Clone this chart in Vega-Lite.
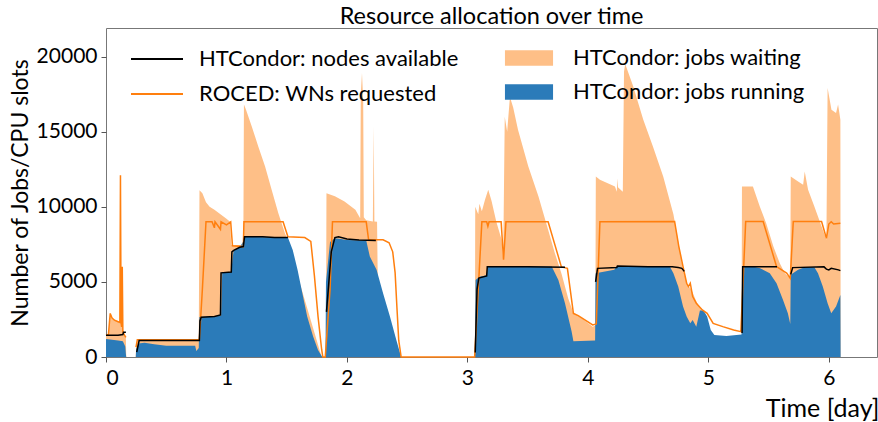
{
  "$schema": "https://vega.github.io/schema/vega-lite/v6.json",
  "autosize": {"type": "none"},
  "padding": {"left": 106, "top": 28, "right": 1, "bottom": 65},
  "width": 771,
  "height": 329,
  "background": "white",
  "title": {"text": "Resource allocation over time", "font": "Lato", "fontSize": 23.5, "fontWeight": "normal", "color": "#000", "anchor": "middle", "offset": 0},
  "config": {
    "view": {"stroke": "#777", "strokeWidth": 1},
    "axis": {"labelFont": "Lato", "labelFontSize": 21, "labelColor": "#000", "titleFont": "Lato", "titleFontSize": 23, "titleFontWeight": "normal", "titleColor": "#000", "domain": false, "grid": false, "tickColor": "#555", "tickSize": 5, "labelPadding": 4},
    "legend": {"labelFont": "Lato", "labelFontSize": 22, "labelColor": "#000", "labelLimit": 0, "padding": 0, "rowPadding": 10, "symbolSize": 676, "labelBaseline": "middle"}
  },
  "datasets": {
    "running": [
      {"t":0,"v":1200},{"t":0.05,"v":1150},{"t":0.10,"v":1100},{"t":0.14,"v":1050},{"t":0.16,"v":700},{"t":0.165,"v":200},{"t":0.168,"v":0},{"t":0.247,"v":0},{"t":0.25,"v":500},{"t":0.27,"v":900},{"t":0.32,"v":950},{"t":0.40,"v":850},{"t":0.50,"v":750},{"t":0.74,"v":750},{"t":0.75,"v":400},{"t":0.77,"v":600},{"t":0.775,"v":2660},{"t":0.90,"v":2700},{"t":0.955,"v":2750},{"t":0.965,"v":5660},{"t":1.04,"v":5660},{"t":1.05,"v":6500},{"t":1.06,"v":7100},{"t":1.11,"v":7300},{"t":1.14,"v":7700},{"t":1.15,"v":8000},{"t":1.51,"v":7950},{"t":1.55,"v":7130},{"t":1.59,"v":5800},{"t":1.63,"v":4240},{"t":1.67,"v":2690},{"t":1.72,"v":1350},{"t":1.76,"v":470},{"t":1.795,"v":0},{"t":1.822,"v":0},{"t":1.826,"v":5000},{"t":1.86,"v":7660},{"t":1.90,"v":7900},{"t":1.95,"v":7850},{"t":2.0,"v":7780},{"t":2.16,"v":7750},{"t":2.19,"v":6690},{"t":2.246,"v":5800},{"t":2.30,"v":4240},{"t":2.357,"v":2690},{"t":2.41,"v":1130},{"t":2.45,"v":0},{"t":3.062,"v":0},{"t":3.068,"v":5130},{"t":3.10,"v":5350},{"t":3.16,"v":5450},{"t":3.17,"v":6020},{"t":3.70,"v":6020},{"t":3.755,"v":5130},{"t":3.81,"v":3580},{"t":3.865,"v":1700},{"t":3.88,"v":1050},{"t":4.06,"v":1100},{"t":4.064,"v":5580},{"t":4.22,"v":5800},{"t":4.235,"v":6020},{"t":4.68,"v":6020},{"t":4.71,"v":5580},{"t":4.75,"v":4690},{"t":4.79,"v":3360},{"t":4.82,"v":2690},{"t":4.85,"v":2240},{"t":4.87,"v":2460},{"t":4.90,"v":2020},{"t":4.93,"v":3100},{"t":4.96,"v":3100},{"t":4.99,"v":2690},{"t":5.02,"v":1800},{"t":5.05,"v":1470},{"t":5.15,"v":1400},{"t":5.276,"v":1500},{"t":5.28,"v":6020},{"t":5.37,"v":6020},{"t":5.43,"v":5900},{"t":5.51,"v":5580},{"t":5.566,"v":4910},{"t":5.62,"v":3800},{"t":5.66,"v":2910},{"t":5.68,"v":2200},{"t":5.684,"v":5470},{"t":5.745,"v":5800},{"t":5.80,"v":5980},{"t":5.88,"v":5980},{"t":5.91,"v":5580},{"t":5.95,"v":4690},{"t":5.99,"v":3580},{"t":6.02,"v":2910},{"t":6.06,"v":3360},{"t":6.096,"v":4130},{"t":6.098,"v":0}
    ],
    "total": [
      {"t":0,"v":1450},{"t":0.02,"v":1500},{"t":0.035,"v":2900},{"t":0.05,"v":2650},{"t":0.07,"v":2500},{"t":0.10,"v":2400},{"t":0.115,"v":2350},{"t":0.12,"v":12100},{"t":0.125,"v":2350},{"t":0.13,"v":2100},{"t":0.135,"v":6000},{"t":0.14,"v":1800},{"t":0.15,"v":1600},{"t":0.165,"v":1300},{"t":0.168,"v":0},{"t":0.247,"v":0},{"t":0.25,"v":700},{"t":0.26,"v":1150},{"t":0.77,"v":1150},{"t":0.776,"v":11100},{"t":0.80,"v":10900},{"t":0.83,"v":10300},{"t":0.86,"v":10000},{"t":0.90,"v":9800},{"t":0.95,"v":9500},{"t":1.00,"v":9200},{"t":1.03,"v":9000},{"t":1.04,"v":7450},{"t":1.14,"v":7450},{"t":1.145,"v":16800},{"t":1.16,"v":16500},{"t":1.21,"v":15350},{"t":1.264,"v":14020},{"t":1.32,"v":12690},{"t":1.375,"v":11130},{"t":1.43,"v":9580},{"t":1.485,"v":8240},{"t":1.527,"v":7500},{"t":1.55,"v":6500},{"t":1.79,"v":0},{"t":1.826,"v":0},{"t":1.83,"v":10900},{"t":1.90,"v":10700},{"t":1.98,"v":10350},{"t":2.07,"v":9800},{"t":2.11,"v":9240},{"t":2.115,"v":17500},{"t":2.125,"v":18900},{"t":2.135,"v":17000},{"t":2.14,"v":9300},{"t":2.16,"v":9100},{"t":2.215,"v":9020},{"t":2.222,"v":15350},{"t":2.228,"v":9020},{"t":2.25,"v":9000},{"t":2.256,"v":5000},{"t":2.30,"v":4000},{"t":2.357,"v":2500},{"t":2.41,"v":1000},{"t":2.44,"v":0},{"t":3.062,"v":0},{"t":3.065,"v":10000},{"t":3.09,"v":9500},{"t":3.10,"v":10200},{"t":3.12,"v":9700},{"t":3.146,"v":10470},{"t":3.173,"v":11130},{"t":3.20,"v":10400},{"t":3.24,"v":9000},{"t":3.284,"v":7800},{"t":3.297,"v":6470},{"t":3.31,"v":16000},{"t":3.33,"v":15000},{"t":3.353,"v":17300},{"t":3.38,"v":16600},{"t":3.42,"v":15130},{"t":3.505,"v":12690},{"t":3.59,"v":10690},{"t":3.67,"v":8470},{"t":3.726,"v":6910},{"t":3.78,"v":5580},{"t":3.837,"v":3900},{"t":3.877,"v":3000},{"t":3.93,"v":2690},{"t":4.04,"v":2020},{"t":4.062,"v":2100},{"t":4.066,"v":12020},{"t":4.10,"v":11800},{"t":4.225,"v":11350},{"t":4.24,"v":11000},{"t":4.245,"v":11900},{"t":4.25,"v":11300},{"t":4.29,"v":11000},{"t":4.30,"v":19000},{"t":4.31,"v":19500},{"t":4.376,"v":18020},{"t":4.46,"v":15800},{"t":4.54,"v":14020},{"t":4.626,"v":12000},{"t":4.71,"v":9500},{"t":4.765,"v":7000},{"t":4.79,"v":5800},{"t":4.82,"v":5000},{"t":4.835,"v":4700},{"t":4.85,"v":4600},{"t":4.87,"v":4300},{"t":4.90,"v":3700},{"t":4.94,"v":3150},{"t":4.96,"v":3000},{"t":4.99,"v":1500},{"t":5.0,"v":1200},{"t":5.276,"v":1200},{"t":5.279,"v":11350},{"t":5.37,"v":11350},{"t":5.427,"v":10020},{"t":5.48,"v":8910},{"t":5.54,"v":7350},{"t":5.593,"v":6240},{"t":5.635,"v":5580},{"t":5.68,"v":5240},{"t":5.684,"v":12020},{"t":5.745,"v":11690},{"t":5.787,"v":11470},{"t":5.80,"v":12350},{"t":5.828,"v":11130},{"t":5.88,"v":10020},{"t":5.94,"v":8690},{"t":5.98,"v":7800},{"t":5.99,"v":17900},{"t":6.022,"v":16460},{"t":6.06,"v":16240},{"t":6.077,"v":16800},{"t":6.096,"v":15800},{"t":6.098,"v":0}
    ],
    "roced": [
      {"g":1,"t":0,"v":1450},{"g":1,"t":0.02,"v":1500},{"g":1,"t":0.035,"v":2900},{"g":1,"t":0.05,"v":2600},{"g":1,"t":0.07,"v":2450},{"g":1,"t":0.10,"v":2350},{"g":1,"t":0.115,"v":2300},{"g":1,"t":0.12,"v":12100},{"g":1,"t":0.125,"v":2300},{"g":1,"t":0.13,"v":2000},{"g":1,"t":0.135,"v":6000},{"g":1,"t":0.14,"v":1700},{"g":1,"t":0.15,"v":1500},{"g":1,"t":0.165,"v":1300},
      {"g":2,"t":0.249,"v":650},{"g":2,"t":0.26,"v":1150},{"g":2,"t":0.775,"v":1150},{"g":2,"t":0.80,"v":4500},{"g":2,"t":0.83,"v":9000},{"g":2,"t":0.88,"v":9000},{"g":2,"t":0.90,"v":8600},{"g":2,"t":0.905,"v":9000},{"g":2,"t":0.95,"v":8500},{"g":2,"t":0.955,"v":9000},{"g":2,"t":1.0,"v":8800},{"g":2,"t":1.035,"v":9000},{"g":2,"t":1.05,"v":7400},{"g":2,"t":1.14,"v":7350},{"g":2,"t":1.145,"v":9000},{"g":2,"t":1.47,"v":9000},{"g":2,"t":1.51,"v":8000},{"g":2,"t":1.65,"v":7950},{"g":2,"t":1.70,"v":7700},{"g":2,"t":1.73,"v":5400},{"g":2,"t":1.76,"v":2700},{"g":2,"t":1.79,"v":500},{"g":2,"t":1.80,"v":0},{"g":2,"t":1.82,"v":0},{"g":2,"t":1.86,"v":4500},{"g":2,"t":1.88,"v":9000},{"g":2,"t":2.16,"v":9000},{"g":2,"t":2.18,"v":7800},{"g":2,"t":2.30,"v":7800},{"g":2,"t":2.35,"v":7600},{"g":2,"t":2.38,"v":7000},{"g":2,"t":2.40,"v":5600},{"g":2,"t":2.415,"v":3300},{"g":2,"t":2.43,"v":1100},{"g":2,"t":2.45,"v":0},{"g":2,"t":3.06,"v":0},{"g":2,"t":3.10,"v":6000},{"g":2,"t":3.12,"v":9000},{"g":2,"t":3.16,"v":9000},{"g":2,"t":3.17,"v":8700},{"g":2,"t":3.18,"v":9000},{"g":2,"t":3.28,"v":9000},{"g":2,"t":3.30,"v":6470},{"g":2,"t":3.32,"v":9000},{"g":2,"t":3.67,"v":9000},{"g":2,"t":3.78,"v":6000},{"g":2,"t":3.83,"v":5900},{"g":2,"t":3.88,"v":2900},{"g":2,"t":3.92,"v":2750},{"g":2,"t":4.04,"v":2130},{"g":2,"t":4.07,"v":2200},{"g":2,"t":4.10,"v":9000},{"g":2,"t":4.72,"v":9020},{"g":2,"t":4.755,"v":7350},{"g":2,"t":4.79,"v":6020},{"g":2,"t":4.82,"v":4910},{"g":2,"t":4.835,"v":4690},{"g":2,"t":4.85,"v":4910},{"g":2,"t":4.87,"v":4020},{"g":2,"t":4.90,"v":3580},{"g":2,"t":4.95,"v":3130},{"g":2,"t":4.99,"v":2910},{"g":2,"t":5.04,"v":2240},{"g":2,"t":5.12,"v":2020},{"g":2,"t":5.21,"v":1800},{"g":2,"t":5.27,"v":1690},{"g":2,"t":5.31,"v":9020},{"g":2,"t":5.455,"v":9020},{"g":2,"t":5.566,"v":6020},{"g":2,"t":5.65,"v":5580},{"g":2,"t":5.68,"v":5240},{"g":2,"t":5.705,"v":9020},{"g":2,"t":5.94,"v":9020},{"g":2,"t":5.98,"v":7900},{"g":2,"t":6.0,"v":8850},{"g":2,"t":6.02,"v":9000},{"g":2,"t":6.04,"v":8850},{"g":2,"t":6.096,"v":8900}
    ],
    "nodes": [
      {"g":1,"t":0,"v":1450},{"g":1,"t":0.10,"v":1450},{"g":1,"t":0.14,"v":1500},{"g":1,"t":0.145,"v":1650},{"g":1,"t":0.165,"v":1650},
      {"g":2,"t":0.255,"v":330},{"g":2,"t":0.275,"v":1100},{"g":2,"t":0.775,"v":1100},{"g":2,"t":0.78,"v":2400},{"g":2,"t":0.79,"v":2650},{"g":2,"t":0.90,"v":2700},{"g":2,"t":0.95,"v":2800},{"g":2,"t":0.955,"v":5600},{"g":2,"t":1.04,"v":5650},{"g":2,"t":1.045,"v":7000},{"g":2,"t":1.06,"v":7100},{"g":2,"t":1.11,"v":7300},{"g":2,"t":1.14,"v":7350},{"g":2,"t":1.15,"v":8000},{"g":2,"t":1.30,"v":8000},{"g":2,"t":1.40,"v":7950},{"g":2,"t":1.51,"v":7950},
      {"g":3,"t":1.83,"v":3000},{"g":3,"t":1.87,"v":7000},{"g":3,"t":1.90,"v":7950},{"g":3,"t":1.93,"v":8000},{"g":3,"t":2.0,"v":7850},{"g":3,"t":2.10,"v":7780},{"g":3,"t":2.24,"v":7750},
      {"g":4,"t":3.065,"v":300},{"g":4,"t":3.08,"v":4500},{"g":4,"t":3.095,"v":5250},{"g":4,"t":3.16,"v":5400},{"g":4,"t":3.165,"v":6000},{"g":4,"t":3.5,"v":6000},{"g":4,"t":3.81,"v":5980},
      {"g":5,"t":4.064,"v":5000},{"g":5,"t":4.08,"v":5900},{"g":5,"t":4.24,"v":5950},{"g":5,"t":4.245,"v":6050},{"g":5,"t":4.5,"v":6000},{"g":5,"t":4.7,"v":6000},{"g":5,"t":4.75,"v":5950},{"g":5,"t":4.78,"v":5900},{"g":5,"t":4.80,"v":5700},
      {"g":6,"t":5.28,"v":1600},{"g":6,"t":5.285,"v":6000},{"g":6,"t":5.57,"v":6000},
      {"g":7,"t":5.684,"v":5500},{"g":7,"t":5.70,"v":5950},{"g":7,"t":5.96,"v":6000},{"g":7,"t":5.98,"v":5850},{"g":7,"t":6.0,"v":5800},{"g":7,"t":6.02,"v":5900},{"g":7,"t":6.08,"v":5800},{"g":7,"t":6.096,"v":5750}
    ]
  },
  "encoding": {
    "x": {"field": "t", "type": "quantitative", "scale": {"domain": [0, 6.4], "nice": false, "zero": false},
      "axis": {"values": [0,1,2,3,4,5,6], "format": "d", "labelPadding": 5, "title": "Time [day]", "titleFontSize": 25, "titleAnchor": "end", "titleAlign": "right", "titleX": 773, "titleY": 59, "titleBaseline": "alphabetic"}},
    "y": {"field": "v", "type": "quantitative", "scale": {"domain": [0, 21900], "nice": false},
      "axis": {"values": [0,5000,10000,15000,20000], "format": "d", "title": "Number of Jobs/CPU slots", "titlePadding": 4}}
  },
  "layer": [
    {"data": {"name": "total"}, "mark": {"type": "area", "interpolate": "linear"},
      "encoding": {"fill": {"datum": "HTCondor: jobs waiting", "type": "nominal",
        "scale": {"domain": ["HTCondor: jobs waiting", "HTCondor: jobs running"], "range": ["#febf87", "#2b7bb9"]},
        "legend": {"title": null, "orient": "none", "legendX": 410, "legendY": 17, "symbolType": "M-1.85,-0.6H1.85V0.6H-1.85Z", "symbolStrokeWidth": 0, "symbolOpacity": 1, "labelOffset": 31}}}},
    {"data": {"name": "running"}, "mark": {"type": "area", "interpolate": "linear"},
      "encoding": {"fill": {"datum": "HTCondor: jobs running", "type": "nominal"}}},
    {"data": {"name": "roced"}, "mark": {"type": "line", "strokeWidth": 1.5},
      "encoding": {"detail": {"field": "g", "type": "nominal"},
        "stroke": {"datum": "ROCED: WNs requested", "type": "nominal",
          "scale": {"domain": ["HTCondor: nodes available", "ROCED: WNs requested"], "range": ["#000000", "#ff7f0e"]},
          "legend": {"title": null, "orient": "none", "legendX": 37, "legendY": 17, "symbolType": "M-2,0H2", "symbolStrokeWidth": 1.8, "labelOffset": 28}}}},
    {"data": {"name": "nodes"}, "mark": {"type": "line", "strokeWidth": 1.5},
      "encoding": {"detail": {"field": "g", "type": "nominal"},
        "stroke": {"datum": "HTCondor: nodes available", "type": "nominal"}}}
  ]
}
